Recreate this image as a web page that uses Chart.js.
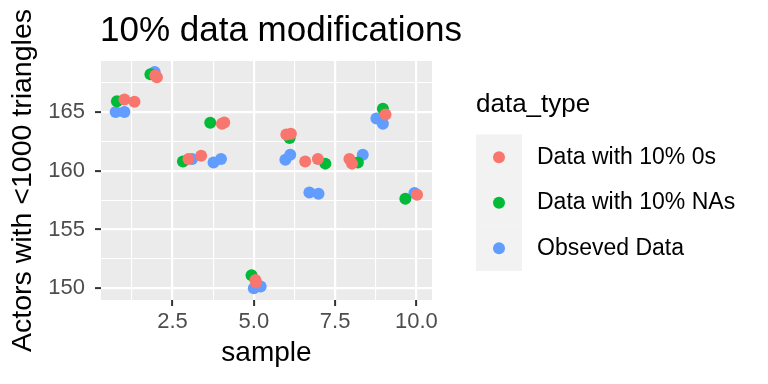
<!DOCTYPE html>
<html><head><meta charset="utf-8">
<script src="https://cdn.jsdelivr.net/npm/chart.js@4/dist/chart.umd.min.js"></script>
<style>html,body{margin:0;padding:0;background:#fff;}#wrap{width:768px;height:384px;position:relative;}</style>
</head><body><div id="wrap"><canvas id="c" width="768" height="384"></canvas></div>
<script>
const chartTitle = '10% data modifications';
const xTitle = 'sample';
const yTitle = 'Actors with <1000 triangles';
const legendTitle = 'data_type';
const seriesLabels = ['Data with 10% 0s', 'Data with 10% NAs', 'Obseved Data'];
const seriesColors = ['#F8766D', '#00BA38', '#619CFF'];

const zerosX = [1.02, 1.33, 1.97, 2.02, 2.99, 3.38, 4.02, 4.09, 5.05, 5.07, 6.0, 6.14, 6.58, 6.97, 7.94, 8.02, 9.05, 10.02];
const zerosY = [166.05, 165.86, 168.1, 167.95, 161.0, 161.28, 164.0, 164.1, 150.7, 150.48, 163.07, 163.15, 160.79, 161.0, 161.0, 160.6, 164.77, 157.95];
const naX = [0.79, 1.82, 2.82, 3.66, 4.93, 6.1, 7.2, 8.2, 8.97, 9.66];
const naY = [165.91, 168.2, 160.79, 164.07, 151.1, 162.79, 160.6, 160.7, 165.26, 157.61];
const obsX = [0.75, 1.02, 1.95, 3.1, 3.76, 3.99, 5.0, 5.21, 5.97, 6.12, 6.71, 6.99, 8.35, 8.77, 8.97, 9.94];
const obsY = [165.0, 165.0, 168.4, 161.0, 160.7, 161.0, 150.0, 150.14, 160.94, 161.36, 158.15, 158.04, 161.36, 164.43, 164.0, 158.1];

const xTickVals = [1.25, 2.5, 3.75, 5.0, 6.25, 7.5, 8.75, 10.0];
const yTickVals = [150, 152.5, 155, 157.5, 160, 162.5, 165, 167.5];

const FONT = '"Liberation Sans", Arial, Helvetica, sans-serif';
const pts = (xs, ys) => xs.map((x, i) => ({x: x, y: ys[i]}));
const isMajor = (v, step) => Math.abs(v / step - Math.round(v / step)) < 1e-6;

const panelBg = {
  id: 'panelBg',
  beforeDraw(chart) {
    const {ctx, chartArea: a} = chart;
    ctx.save();
    ctx.fillStyle = '#EBEBEB';
    ctx.fillRect(a.left, a.top, a.right - a.left, a.bottom - a.top);
    ctx.restore();
  }
};
const extras = {
  id: 'extras',
  afterDraw(chart) {
    const ctx = chart.ctx;
    ctx.save();
    ctx.fillStyle = '#000';
    ctx.textBaseline = 'alphabetic';
    ctx.textAlign = 'left';
    ctx.font = '35px ' + FONT;
    ctx.fillText(chartTitle, 100, 41);
    ctx.font = '26px ' + FONT;
    ctx.fillText(legendTitle, 476, 112);
    const kh = 45.5, ky = 134.5;
    seriesLabels.forEach((lab, i) => {
      ctx.fillStyle = '#F2F2F2';
      ctx.fillRect(476, ky + i * kh, 46, kh);
      ctx.fillStyle = seriesColors[i];
      ctx.beginPath();
      ctx.arc(499, ky + i * kh + kh / 2, 6, 0, Math.PI * 2);
      ctx.fill();
      ctx.fillStyle = '#000';
      ctx.font = '23px ' + FONT;
      ctx.textBaseline = 'middle';
      ctx.fillText(lab, 537, ky + i * kh + kh / 2);
    });
    ctx.restore();
  }
};

const datasets = [
  {label: seriesLabels[0], data: pts(zerosX, zerosY), backgroundColor: seriesColors[0], order: 0},
  {label: seriesLabels[1], data: pts(naX, naY), backgroundColor: seriesColors[1], order: 1},
  {label: seriesLabels[2], data: pts(obsX, obsY), backgroundColor: seriesColors[2], order: 2}
].map(d => Object.assign(d, {pointRadius: 6, pointHoverRadius: 6, borderWidth: 0, borderColor: d.backgroundColor}));

new Chart(document.getElementById('c'), {
  type: 'scatter',
  data: {datasets},
  options: {
    responsive: false,
    animation: false,
    devicePixelRatio: 1,
    layout: {padding: {top: 61, right: 336, left: 0, bottom: 0}},
    plugins: {legend: {display: false}, title: {display: false}, tooltip: {enabled: false}},
    scales: {
      x: {
        type: 'linear', min: 0.30, max: 10.48,
        afterBuildTicks: s => { s.ticks = xTickVals.map(v => ({value: v})); },
        afterFit: s => { s.height = 84; },
        border: {display: false},
        grid: {
          color: '#FFFFFF',
          lineWidth: c => (c.tick && isMajor(c.tick.value, 2.5)) ? 2.2 : 1.1,
          tickColor: c => (c.tick && isMajor(c.tick.value, 2.5)) ? '#333333' : 'rgba(0,0,0,0)',
          tickLength: 6, tickWidth: 2, drawTicks: true
        },
        ticks: {
          autoSkip: false, maxRotation: 0, padding: 3, color: '#4D4D4D',
          font: {family: FONT, size: 22},
          callback: v => isMajor(v, 2.5) ? v.toFixed(1) : ''
        },
        title: {display: true, text: xTitle, color: '#000', font: {family: FONT, size: 28}, padding: {top: 0, bottom: 14}}
      },
      y: {
        type: 'linear', min: 149.0, max: 169.33,
        afterBuildTicks: s => { s.ticks = yTickVals.map(v => ({value: v})); },
        afterFit: s => { s.width = 101; },
        border: {display: false},
        grid: {
          color: '#FFFFFF',
          lineWidth: c => (c.tick && isMajor(c.tick.value, 5)) ? 2.2 : 1.1,
          tickColor: c => (c.tick && isMajor(c.tick.value, 5)) ? '#333333' : 'rgba(0,0,0,0)',
          tickLength: 6, tickWidth: 2, drawTicks: true
        },
        ticks: {
          autoSkip: false, padding: 10, color: '#4D4D4D',
          font: {family: FONT, size: 22},
          callback: v => isMajor(v, 5) ? String(v) : ''
        },
        title: {display: true, text: yTitle, color: '#000', font: {family: FONT, size: 28.5}, padding: {top: 6, bottom: 0}}
      }
    }
  },
  plugins: [panelBg, extras]
});
</script></body></html>
